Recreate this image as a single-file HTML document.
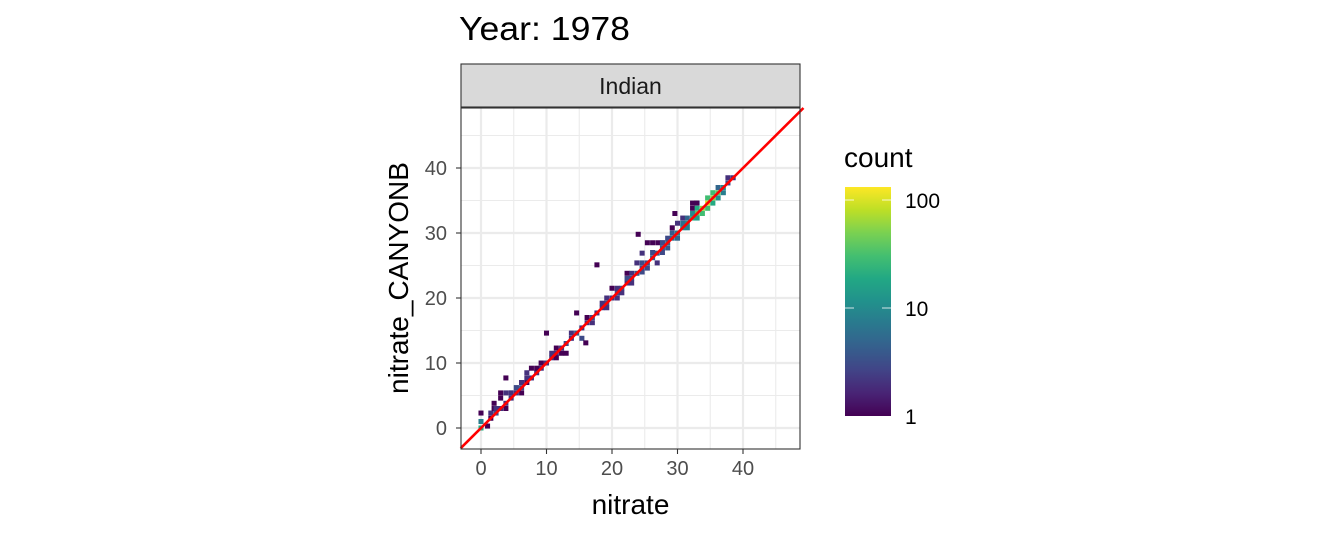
<!DOCTYPE html>
<html><head><meta charset="utf-8"><style>
body{margin:0;background:#fff;}
svg{display:block;font-family:"Liberation Sans",Arial,sans-serif;}
</style></head><body>
<svg id="chart" width="1344" height="537" viewBox="0 0 1344 537" xmlns="http://www.w3.org/2000/svg">
<text x="459" y="40" font-size="33" fill="#000" textLength="171" lengthAdjust="spacingAndGlyphs">Year: 1978</text>
<rect x="461" y="64" width="339" height="43" fill="#d9d9d9" stroke="#333" stroke-width="1.1"/>
<text x="630.5" y="94" font-size="23" fill="#1a1a1a" text-anchor="middle">Indian</text>
<g id="grid"></g>
<g id="cells"></g>
<g id="ref"></g>
<rect x="461" y="108" width="339" height="341" fill="none" stroke="#333" stroke-width="1.1"/>
<g id="axes"></g>
<text x="630.5" y="514" font-size="28" text-anchor="middle" fill="#000">nitrate</text>
<text transform="translate(408,278) rotate(-90)" font-size="28" text-anchor="middle" fill="#000">nitrate_CANYONB</text>
<text x="844" y="167" font-size="28" fill="#000">count</text>
<defs><linearGradient id="vir" x1="0" y1="1" x2="0" y2="0"></linearGradient></defs>
<rect x="845" y="187" width="46" height="229" fill="url(#vir)"/>
<g id="legend"></g>
</svg>
<script>
const xTicks=[0,10,20,30,40];
const yTicks=[0,10,20,30,40];
const legendTicks=[1,10,100];
const cellX=[0,0,1,0,1.5,2,2,2.3,3,3.8,3,3,3.8,4.6,3.8,4.6,5.4,5.4,6.2,6.2,3.8,6.2,7,7.7,8.5,7,9.2,7.7,9.2,10,10.8,11.5,12.3,13,13,10,11.5,13.8,15.4,14.6,15.4,16.2,14.6,17,17.7,16,18.5,19.2,20,20.8,21.5,22.3,23,23.8,22.3,24.6,23.8,25.4,26.2,24.6,25.4,26.2,27,27.7,27.7,28.5,26.9,27.7,29.2,30,28.5,30.8,31.5,30.8,31.5,32.3,33,33,33.8,33.8,34.6,34.6,35.4,35.4,36.2,36.2,37,36.2,37.7,38.5,32.3,32.3,33,29.2,30,26.9,20,20.8,19.2,23,24.6,17.7,24,29.6,32.9,
 8.5,9.2,10.8,11.5,12.3,13.8,16.2,17,18.5,19.2,20.8,21.5,22.3,23,24.6,25.4,26.2,27.7,28.5,29.2,30,30.8,31.5,32.3,33,34.6,35.4,37,37.7,1.5,2.3,4.6,5.4,6.2,7];
const cellY=[0,1,0.3,2.3,2.3,3,3.8,2.3,3,3,4.6,5.4,3.8,4.6,5.4,5.4,5.4,6.2,6.2,7,7.7,5.4,7,7.7,8.5,8.5,9.2,9.2,10,10,10.8,11.5,12.3,13,11.5,14.6,10.8,13.8,13.8,14.6,15.4,16.2,17.7,17,17.7,13.1,18.5,19.2,20,20.8,21.5,22.3,23,23.8,23.8,24.6,25.4,25.4,26.2,26.9,28.5,28.5,28.5,28.5,27.7,28.5,25.4,27,29.2,30,29.2,30.8,31.5,32.3,32.3,32.3,33,32.3,33.8,33,34.6,33.8,35.4,34.6,36.2,35.4,37,37,37.7,38.5,33.8,34.6,34.6,30.8,31.5,26.9,21.5,20,20,23.8,24,25.1,29.8,33,34.6,
 9.2,10,11.5,12.3,11.5,14.6,17,16.2,19.2,18.5,21.5,20.8,23,22.3,25.4,24.6,27,28.5,27.7,30,29.2,31.5,30.8,33,33.8,35.4,36.2,36.2,38.5,1.5,3,5.4,6.2,7,7.7];
const cellCount=[20,8,1,1,2,1,1,3,2,1,1,1,2,2,2,3,2,3,3,1,1,1,1,2,2,2,2,1,1,2,2,2,2,3,1,1,1,2,3,4,2,2,1,3,2,1,2,3,2,3,3,2,3,4,1,3,2,3,4,2,1,1,1,2,4,5,2,3,6,8,3,10,12,2,5,20,40,15,60,30,100,30,60,20,40,12,10,5,3,2,1,1,2,1,2,4,1,2,2,2,3,1,1,1,1,
 1,1,2,1,1,2,1,2,2,2,2,2,3,2,3,3,3,3,4,4,5,6,8,10,20,30,30,8,2,1,2,2,3,2,2];

const NS="http://www.w3.org/2000/svg";
const X0=461,X1=800,Y0=108,Y1=449;
const xs=v=>481+v*6.55, ys=v=>428-v*6.5;
const bin=0.77;
const vir=["#440154","#482475","#414487","#355f8d","#2a788e","#21918c","#22a884","#44bf70","#7ad151","#bddf26","#fde725"];
function hex(c){return [1,3,5].map(i=>parseInt(c.substr(i,2),16));}
function viridis(t){t=Math.max(0,Math.min(1,t));const p=t*(vir.length-1),i=Math.min(Math.floor(p),vir.length-2),f=p-i;const a=hex(vir[i]),b=hex(vir[i+1]);return "rgb("+a.map((v,k)=>Math.round(v+(b[k]-v)*f)).join(",")+")";}
const maxLog=Math.log10(138);
const col=c=>viridis(Math.log10(c)/maxLog);
function mk(tag,attrs,parent){const e=document.createElementNS(NS,tag);for(const k in attrs)e.setAttribute(k,attrs[k]);parent.appendChild(e);return e;}
const g=document.getElementById('grid');
mk('rect',{x:X0,y:Y0,width:X1-X0,height:Y1-Y0,fill:'#fff'},g);
for(let v=-5;v<=50;v+=5){const major=v%10===0;const sw=major?2.2:1.1;
 const px=xs(v);if(px>X0&&px<X1){const l=mk('line',{x1:px,x2:px,y1:Y0,y2:Y1,stroke:'#ebebeb','stroke-width':sw},g);}
 const py=ys(v);if(py>Y0&&py<Y1){const l=mk('line',{x1:X0,x2:X1,y1:py,y2:py,stroke:'#ebebeb','stroke-width':sw},g);}}
const cg=document.getElementById('cells');
for(let i=0;i<cellX.length;i++){const w=bin*6.55,h=bin*6.5;
 const r=mk('rect',{x:xs(cellX[i])-w/2,y:ys(cellY[i])-h/2,width:w,height:h,fill:col(cellCount[i])},cg);
 
 }
const rg=document.getElementById('ref');
const hi=(Y0-428)/-6.5;
const rl=mk('line',{x1:xs(-3.1),y1:ys(-3.1),x2:xs(hi),y2:ys(hi),stroke:'#ff0000','stroke-width':2.6},rg);


const ax=document.getElementById('axes');
xTicks.forEach(v=>{const px=xs(v);
 const t=mk('line',{x1:px,x2:px,y1:Y1,y2:Y1+5,stroke:'#333','stroke-width':1.1},ax);
 const l=mk('text',{x:px,y:Y1+26,'font-size':20,'text-anchor':'middle',fill:'#4d4d4d'},ax);l.textContent=v;});
yTicks.forEach(v=>{const py=ys(v);
 const t=mk('line',{x1:X0-5,x2:X0,y1:py,y2:py,stroke:'#333','stroke-width':1.1},ax);
 const l=mk('text',{x:X0-14,y:py+7,'font-size':20,'text-anchor':'end',fill:'#4d4d4d'},ax);l.textContent=v;});
const gr=document.getElementById('vir');
for(let i=0;i<=20;i++){const t=i/20;mk('stop',{offset:t,'stop-color':viridis(t)},gr);}
const lg=document.getElementById('legend');
const ly=c=>416-Math.log10(c)*108;
legendTicks.forEach(v=>{const py=ly(v);
 if(v>1){const a=mk('line',{x1:845,x2:854,y1:py,y2:py,stroke:'#fff','stroke-width':1,opacity:0.8},lg);
 const b=mk('line',{x1:882,x2:891,y1:py,y2:py,stroke:'#fff','stroke-width':1,opacity:0.8},lg);}
 const l=mk('text',{x:905,y:py+8,'font-size':21,fill:'#000'},lg);l.textContent=v;});
</script>
</body></html>
